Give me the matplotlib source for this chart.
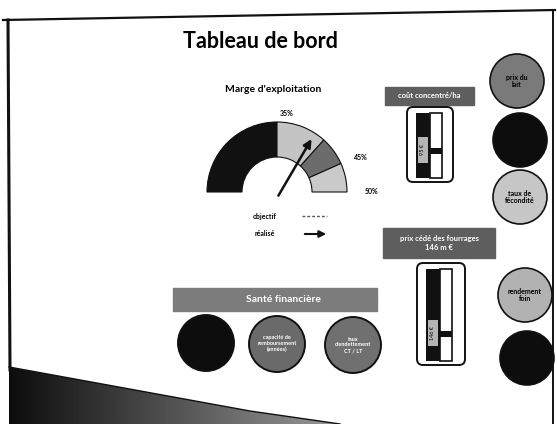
# Tableau de bord - recreation of a scanned dashboard slide

import numpy as np
import matplotlib.pyplot as plt
from matplotlib.patches import Wedge, Circle, Rectangle, FancyBboxPatch, Polygon

plt.rcParams["font.family"] = ["Lato", "DejaVu Sans"]

# gauge "Marge d'exploitation" (in %)
gauge_bounds = [20, 35, 42, 46, 50]
gauge_ticks = [35, 45, 50]
marge_realisee = 40.5

# vertical gauges (level = share of the bar, from the bottom)
bar_titles = ["coût concentré/ha", "prix cédé des fourrages\n146 m €"]
bar_levels = [0.42, 0.29]
bar_values = ["95 €", "146 €"]

# indicator discs
right_labels = ["prix du\nlait", "", "taux de\nfécondité", "rendement\nfoin", ""]
sante_labels = ["", "capacité de\nremboursement\n(années)", "taux\nd'endettement\nCT / LT"]

# colours
gauge_colors = ["#111111", "#c4c4c4", "#6c6c6c", "#cacaca"]
right_colors = ["#7a7a7a", "#0d0d0d", "#c6c6c6", "#b2b2b2", "#0d0d0d"]
sante_colors = ["#0d0d0d", "#6a6a6a", "#707070"]
banner_color = "#5e5e5e"

W, H = 557, 424
fig = plt.figure(figsize=(W / 100, H / 100), dpi=100)
ax = fig.add_axes([0, 0, 1, 1])
ax.set_xlim(0, W)
ax.set_ylim(H, 0)
ax.axis("off")

# slide frame and swoosh
ax.plot([3, 555], [20, 10], color="#111111", lw=1.6)
ax.plot([8, 10], [20, 370], color="#111111", lw=2.2)
ax.plot([553, 553], [10, 424], color="#111111", lw=1.4)
swoosh = Polygon([(9, 367), (250, 411), (340, 424), (9, 424)], facecolor="none", edgecolor="none")
ax.add_patch(swoosh)
grad = np.linspace(0.05, 0.6, 200)[None, :]
img = ax.imshow(grad, extent=(9, 340, 424, 367), cmap="gray", vmin=0, vmax=1,
                aspect="auto", zorder=1)
img.set_clip_path(swoosh)
ax.plot([9, 250, 340], [367, 411, 424], color="#111111", lw=1)
ax.set_xlim(0, W)
ax.set_ylim(H, 0)

ax.text(260, 42, "Tableau de bord", fontsize=15.5, fontweight="bold", ha="center", va="center")

# --- marge d'exploitation gauge
ax.text(273, 90, "Marge d'exploitation", fontsize=7.5, fontweight="bold", ha="center", va="center")
cx, cy, r_out, r_in = 277, 192, 70, 35
lo, hi = gauge_bounds[0], gauge_bounds[-1]


def to_angle(v):
    # visual angle in degrees, 180 at left end, 0 at right end
    return 180 * (1 - (v - lo) / (hi - lo))


for (a, b), col in zip(zip(gauge_bounds[:-1], gauge_bounds[1:]), gauge_colors):
    # y axis is inverted, so visual angles are negated
    ax.add_patch(Wedge((cx, cy), r_out, -to_angle(a), -to_angle(b),
                       width=r_out - r_in, facecolor=col, edgecolor="#111111", lw=0.8))

for t in gauge_ticks:
    ang = np.radians(to_angle(t))
    rl = 82 if t != gauge_ticks[0] else 78
    ax.text(cx + rl * np.cos(ang) + (6 if t != gauge_ticks[0] else 10),
            cy - rl * np.sin(ang) + (6 if t == gauge_ticks[1] else 0),
            f"{t}%", fontsize=5, fontweight="bold", ha="left" if t != gauge_ticks[0] else "center",
            va="center")

ang = np.radians(to_angle(marge_realisee))
ax.annotate("", xy=(cx + 66 * np.cos(ang), cy - 66 * np.sin(ang)), xytext=(cx, cy + 6),
            arrowprops=dict(arrowstyle="-|>", color="#111111", lw=1.8, mutation_scale=12))

ax.text(265, 217, "objectif", fontsize=5, fontweight="bold", ha="center", va="center")
ax.plot([302, 327], [216, 216], color="#555555", lw=1, ls=(0, (2, 1.5)))
ax.text(265, 233, "réalisé", fontsize=5, fontweight="bold", ha="center", va="center")
ax.annotate("", xy=(329, 234), xytext=(302, 234),
            arrowprops=dict(arrowstyle="-|>", color="#111111", lw=1.5, mutation_scale=10))

# --- vertical gauges
banner_boxes = [(385, 87, 89, 18), (383, 228, 112, 30)]
frames = [(407, 107, 46, 75), (417, 263, 48, 102)]
for title, level, val, (bx, by, bw, bh), (fx, fy, fw, fh) in zip(
        bar_titles, bar_levels, bar_values, banner_boxes, frames):
    ax.add_patch(Rectangle((bx, by), bw, bh, color=banner_color))
    ax.text(bx + bw / 2, by + bh / 2, title, fontsize=5.5, fontweight="bold", color="white",
            ha="center", va="center", linespacing=1.3)
    ax.add_patch(FancyBboxPatch((fx, fy), fw, fh, boxstyle="round,pad=0,rounding_size=6",
                                facecolor="white", edgecolor="#111111", lw=1.4))
    top, bot = fy + 6, fy + fh - 4
    x0 = fx + 9
    ax.add_patch(Rectangle((x0, top), 14, bot - top, facecolor="#111111"))
    ax.add_patch(Rectangle((x0 + 14, top), 12, bot - top, facecolor="white",
                           edgecolor="#111111", lw=1.2))
    ym = bot - level * (bot - top)
    ax.add_patch(Rectangle((x0 + 14, ym - 3), 12, 6, facecolor="#111111"))
    ax.add_patch(Rectangle((x0 + 2, ym - 14), 10, 26, facecolor="#b5b5b5"))
    ax.text(x0 + 7, ym - 1, val, fontsize=4, rotation=90, ha="center", va="center")

# --- right discs
right_pos = [(517, 81), (520, 140), (520, 197), (525, 295), (527, 358)]
for lab, col, (x, y) in zip(right_labels, right_colors, right_pos):
    ax.add_patch(Circle((x, y), 27, facecolor=col, edgecolor="#111111", lw=1.2))
    if lab:
        ax.text(x, y, lab, fontsize=5, fontweight="bold", ha="center", va="center",
                linespacing=1.1)

# --- santé financière
ax.add_patch(Rectangle((173, 288), 204, 23, color="#7c7c7c"))
ax.text(283, 299, "Santé financière", fontsize=7.5, fontweight="bold", color="white",
        ha="center", va="center")
sante_pos = [(206, 343), (277, 344), (353, 345)]
for lab, col, (x, y) in zip(sante_labels, sante_colors, sante_pos):
    ax.add_patch(Circle((x, y), 28, facecolor=col, edgecolor="#111111", lw=1.4))
    if lab:
        ax.text(x, y, lab, fontsize=4, fontweight="bold", color="white", ha="center",
                va="center", linespacing=1.2)

fig.savefig("out.png", dpi=100)
